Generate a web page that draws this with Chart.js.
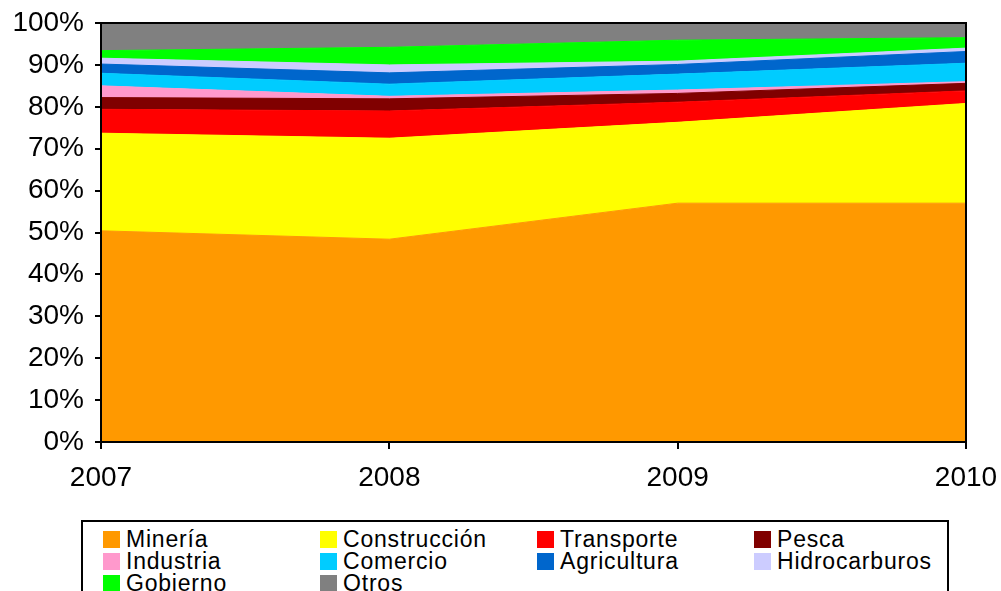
<!DOCTYPE html>
<html>
<head>
<meta charset="utf-8">
<script src="https://cdn.jsdelivr.net/npm/chart.js@4.4.1/dist/chart.umd.min.js"></script>
<style>
  body { margin: 0; background: #fff; }
  #wrap { position: relative; width: 1001px; height: 591px; overflow: hidden; }
  #legend {
    position: absolute; left: 81px; top: 520px; width: 864px; height: 100px;
    border: 2px solid #000; background: #fff;
    font-family: "Liberation Sans", Arial, sans-serif; font-size: 23px; letter-spacing: 0.8px;
  }
  .item { position: absolute; height: 22px; line-height: 22px; color: #000; white-space: nowrap; }
  .sw { position: absolute; left: 0; top: 3px; width: 17px; height: 17px; }
  .lbl { position: absolute; left: 23px; top: 0; }
</style>
</head>
<body>
<div id="wrap">
  <canvas id="areaChart" width="1001" height="591"></canvas>
  <div id="legend"></div>
</div>
<script>
// DATA
const years = ["2007", "2008", "2009", "2010"];

const mineria       = [50.4, 48.4, 57.0, 57.0];
const construccion  = [23.3, 24.1, 19.3, 23.8];
const transporte    = [5.7, 6.5, 4.8, 3.0];
const pesca         = [2.8, 2.9, 2.1, 1.8];
const industria     = [2.8, 0.6, 0.8, 0.4];
const comercio      = [3.0, 2.9, 3.8, 4.4];
const agricultura   = [2.2, 2.7, 2.3, 2.8];
const hidrocarburos = [1.4, 1.9, 0.8, 0.8];
const gobierno      = [1.8, 4.2, 5.0, 2.5];
const otros         = [6.6, 5.8, 4.1, 3.5];

const seriesNames = ["Minería", "Construcción", "Transporte", "Pesca", "Industria",
                     "Comercio", "Agricultura", "Hidrocarburos", "Gobierno", "Otros"];
const seriesData = [mineria, construccion, transporte, pesca, industria,
                    comercio, agricultura, hidrocarburos, gobierno, otros];
const seriesColors = ["#FF9900", "#FFFF00", "#FF0000", "#800000", "#FF99CC",
                      "#00CCFF", "#0066CC", "#CCCCFF", "#00FF00", "#808080"];

const datasets = seriesNames.map((name, i) => ({
    label: name,
    data: seriesData[i],
    backgroundColor: seriesColors[i],
    borderColor: seriesColors[i],
    borderWidth: 1,
    pointRadius: 0,
    tension: 0,
    fill: i === 0 ? "origin" : "-1"
}));

// plot frame
const frame = {
    id: "frame",
    afterDatasetsDraw(chart) {
        const a = chart.chartArea;
        const c = chart.ctx;
        c.save();
        c.strokeStyle = "#000";
        c.lineWidth = 2;
        c.strokeRect(a.left, a.top, a.right - a.left, a.bottom - a.top);
        c.restore();
    }
};

const axisFont = { family: "'Liberation Sans', Arial, sans-serif", size: 28 };

new Chart(document.getElementById("areaChart").getContext("2d"), {
    type: "line",
    data: { labels: years, datasets: datasets },
    options: {
        responsive: false,
        animation: false,
        layout: { padding: { left: 0, right: 35, top: 23, bottom: 89 } },
        plugins: { legend: { display: false }, tooltip: { enabled: false } },
        scales: {
            x: {
                offset: false,
                grid: { display: true, drawOnChartArea: false, drawTicks: true, tickLength: 7, color: "#000", lineWidth: 2 },
                border: { display: true, color: "#000", width: 2 },
                ticks: { color: "#000", font: axisFont, padding: 12, maxRotation: 0, autoSkip: false },
                afterFit(s) { s.height = 60; s.paddingLeft = 0; s.paddingRight = 0; }
            },
            y: {
                stacked: true,
                min: 0,
                max: 100,
                grid: { display: true, drawOnChartArea: false, drawTicks: true, tickLength: 6, color: "#000", lineWidth: 2 },
                border: { display: true, color: "#000", width: 2 },
                ticks: { color: "#000", font: axisFont, stepSize: 10, padding: 11, callback: v => v + "%" },
                afterFit(s) { s.width = 101; s.paddingTop = 0; s.paddingBottom = 0; }
            }
        }
    },
    plugins: [frame]
});

// LEGEND (4 columns, row-major like the original)
const legend = document.getElementById("legend");
const colX = [20, 237, 454, 671];
const rowY = [6, 28, 50];
seriesNames.forEach((name, i) => {
    const div = document.createElement("div");
    div.className = "item";
    div.style.left = colX[i % 4] + "px";
    div.style.top = rowY[Math.floor(i / 4)] + "px";
    div.innerHTML = `<span class="sw" style="background:${seriesColors[i]}"></span><span class="lbl">${name}</span>`;
    legend.appendChild(div);
});
</script>
</body>
</html>
